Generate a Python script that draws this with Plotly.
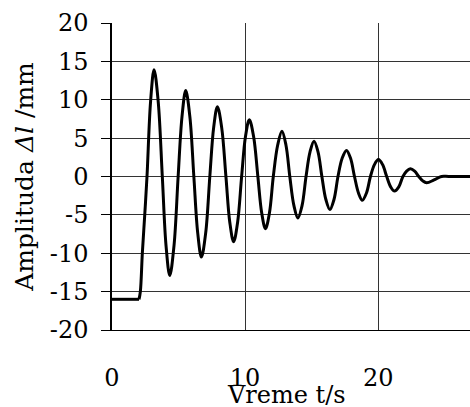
import plotly.graph_objects as go

# Measured displacement of the oscillating system (time in s, amplitude in mm):
# rest level, release, then points along each swing of the damped oscillation.
time_s = [0.0, 2.03, 2.13, 2.28, 2.46, 2.63, 2.90, 3.16, 3.47, 3.78,
          4.06, 4.34, 4.66, 4.97, 5.26, 5.54, 5.85, 6.15, 6.44, 6.72,
          7.04, 7.35, 7.64, 7.92, 8.24, 8.56, 8.85, 9.14, 9.44, 9.74,
          10.03, 10.32, 10.64, 10.96, 11.25, 11.53, 11.83, 12.12, 12.45,
          12.77, 13.07, 13.36, 13.67, 13.97, 14.28, 14.58, 14.88, 15.18,
          15.48, 15.77, 16.07, 16.37, 16.68, 16.98, 17.30, 17.62, 17.92,
          18.22, 18.52, 18.81, 19.12, 19.42, 19.72, 20.02, 20.33, 20.64,
          20.94, 21.23, 21.55, 21.86, 22.14, 22.42, 22.74, 23.05, 23.35,
          23.64, 24.20, 24.76, 25.30, 27.00]
amplitude_mm = [-16.0, -16.0, -15.0, -10.0, -5.0, 0.0, 9.8, 13.9, 9.8, 0.0,
                -9.0, -12.9, -9.0, 0.0, 7.8, 11.2, 7.8, 0.0, -7.35, -10.5,
                -7.35, 0.0, 6.4, 9.1, 6.4, 0.0, -5.95, -8.5, -5.95, 0.0,
                5.2, 7.4, 5.2, 0.0, -4.75, -6.8, -4.75, 0.0, 4.1,
                5.9, 4.1, 0.0, -3.8, -5.4, -3.8, 0.0, 3.2, 4.6,
                3.2, 0.0, -3.0, -4.3, -3.0, 0.0, 2.4, 3.4, 2.4,
                0.0, -2.15, -3.1, -2.15, 0.0, 1.55, 2.2, 1.55, 0.0,
                -1.35, -1.9, -1.35, 0.0, 0.7, 1.0, 0.7, 0.0, -0.57,
                -0.82, -0.45, 0.0, 0.0, 0.0]

x_ticks = [0, 10, 20, 30]
y_ticks = [-20, -15, -10, -5, 0, 5, 10, 15, 20]

FONT = "DejaVu Serif"
LINE = dict(color="black", width=3)

fig = go.Figure()
# rest position before release (straight segment)
fig.add_trace(go.Scatter(x=time_s[:2], y=amplitude_mm[:2], mode="lines",
                         line=LINE, hoverinfo="skip"))
# released oscillation, smoothed through the measured points
fig.add_trace(go.Scatter(x=time_s[1:], y=amplitude_mm[1:], mode="lines",
                         line=dict(LINE, shape="spline", smoothing=1.0),
                         hoverinfo="skip"))

fig.update_layout(
    width=470, height=407,
    margin=dict(l=112, r=0, t=23, b=77),
    paper_bgcolor="white", plot_bgcolor="white",
    showlegend=False,
    font=dict(family=FONT, color="black"),
    xaxis=dict(range=[0, 26.9], tickvals=x_ticks, ticktext=[str(v) for v in x_ticks],
               showgrid=True, gridcolor="#333", gridwidth=1,
               zeroline=False, showline=True, linecolor="black", linewidth=1,
               ticks="", tickfont=dict(size=24, family=FONT),
               ticklabelstandoff=26, mirror=False),
    yaxis=dict(range=[-20, 20], tickvals=y_ticks, ticktext=[str(v) for v in y_ticks],
               showgrid=True, gridcolor="#333", gridwidth=1,
               zeroline=False, showline=True, linecolor="black", linewidth=1.5,
               ticks="outside", ticklen=9, tickcolor="black", tickwidth=1,
               tickfont=dict(size=24, family=FONT), ticklabelstandoff=8),
    annotations=[
        dict(text="Vreme t/s", xref="paper", yref="paper", x=0.488, y=-0.212,
             xanchor="center", yanchor="middle", showarrow=False,
             font=dict(size=24, family=FONT)),
        dict(text="Amplituda <i>Δl</i> /mm", xref="paper", yref="paper",
             x=-0.245, y=0.5, xanchor="center", yanchor="middle",
             textangle=-90, showarrow=False, font=dict(size=25, family=FONT)),
    ],
)

fig.write_html("out.html")
